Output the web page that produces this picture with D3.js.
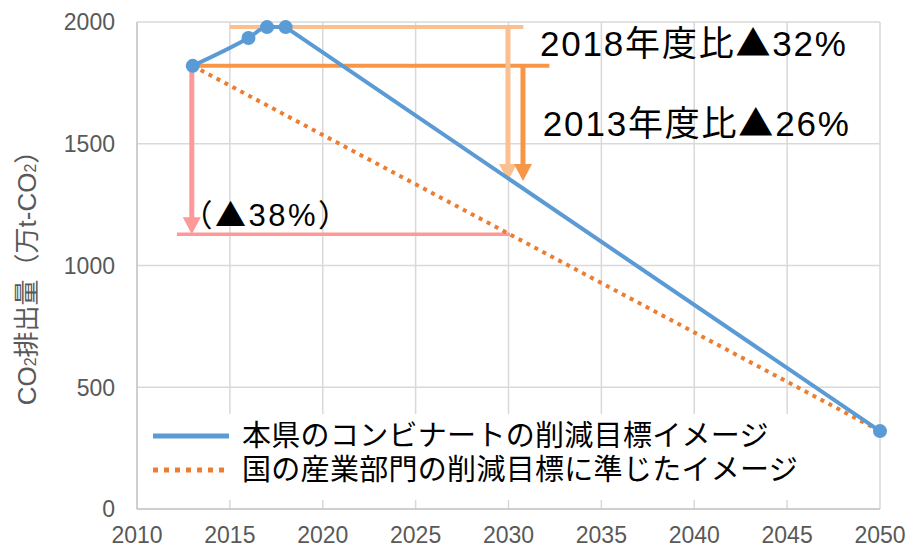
<html>
<head>
    <meta charset="utf-8">
    <style>
        body { margin: 0; background: #fff; }
        text { font-family: "Liberation Sans", Arial, "Noto Sans CJK JP", sans-serif; }
        .grid line { stroke: #d9d9d9; stroke-width: 1.5; }
        .tick-label { fill: #595959; font-size: 23px; }
        .tri { font-family: "Noto Sans CJK JP", sans-serif; }
    </style>
    <script src="https://cdn.jsdelivr.net/npm/d3@7/dist/d3.min.js"></script>
</head>
<body>
<div id="chart-container"></div>
<script>

    // data
    var xTicks = [2010, 2015, 2020, 2025, 2030, 2035, 2040, 2045, 2050];
    var yTicks = [0, 500, 1000, 1500, 2000];

    var prefYears  = [2013, 2016, 2017, 2018, 2050];
    var prefValues = [1820, 1934, 1979, 1979, 320];
    var smoothUntil = 2018; // excel smoothing only visible up to 2018

    var natYears  = [2013, 2050];
    var natValues = [1820, 320];

    var seriesNames = ["本県のコンビナートの削減目標イメージ", "国の産業部門の削減目標に準じたイメージ"];

    // annotation reference levels (year span, value)
    var refValues = [1979, 1820, 1128];
    var refFrom   = [2015, 2012.75, 2012.15];
    var refTo     = [2030.8, 2032.2, 2030.08];

    // arrows (year, from value, to value)
    var arrowYears = [2029.97, 2030.78, 2012.95];
    var arrowFrom  = [1979, 1820, 1820];
    var arrowTo    = [1347, 1347, 1128];

    // labels: before / after the triangle
    var labelPre    = ["2018年度比", "2013年度比", "（"];
    var labelPost   = ["32%", "26%", "38%）"];
    var labelYears  = [2031.7, 2031.85, 2012.4];
    var labelValues = [1860, 1531, 1162];
    var labelSizes  = [35, 35, 31];
    var labelSpacing = [1.8, 1.8, 2.5];

    var refColors = ["#FAC090", "#F79646", "#FF9999"];

    var width = 908, height = 547;
    var margin = {top: 22, bottom: 38, left: 137, right: 28};

    var svg = d3.select("#chart-container").append("svg")
        .attr("width", width)
        .attr("height", height);

    var x = d3.scaleLinear().domain([2010, 2050]).range([margin.left, width - margin.right]);
    var y = d3.scaleLinear().domain([0, 2000]).range([height - margin.bottom, margin.top]);

    // grid
    var grid = svg.append("g").attr("class", "grid");
    grid.selectAll(".vx").data(xTicks.slice(1)).enter().append("line")
        .attr("x1", function (d) { return x(d); })
        .attr("x2", function (d) { return x(d); })
        .attr("y1", y(0)).attr("y2", y(2000));
    grid.selectAll(".hy").data(yTicks.slice(1)).enter().append("line")
        .attr("x1", x(2010)).attr("x2", x(2050))
        .attr("y1", function (d) { return y(d); })
        .attr("y2", function (d) { return y(d); });

    // axes lines
    svg.append("line").attr("x1", x(2010)).attr("x2", x(2010))
        .attr("y1", y(0)).attr("y2", y(2000))
        .attr("stroke", "#bfbfbf").attr("stroke-width", 1.5);
    svg.append("line").attr("x1", x(2010)).attr("x2", x(2050))
        .attr("y1", y(0)).attr("y2", y(0))
        .attr("stroke", "#bfbfbf").attr("stroke-width", 1.5);

    // tick labels
    svg.selectAll(".xl").data(xTicks).enter().append("text")
        .attr("class", "tick-label")
        .attr("x", function (d) { return x(d); })
        .attr("y", y(0) + 34)
        .attr("text-anchor", "middle")
        .text(function (d) { return d; });
    svg.selectAll(".yl").data(yTicks).enter().append("text")
        .attr("class", "tick-label")
        .attr("x", x(2010) - 22)
        .attr("y", function (d) { return y(d); })
        .attr("dy", "0.36em")
        .attr("text-anchor", "end")
        .text(function (d) { return d; });

    // y axis title
    var yTitle = svg.append("text")
        .attr("transform", "translate(36," + ((y(0) + y(2000)) / 2 + 6) + ") rotate(-90)")
        .attr("text-anchor", "middle")
        .attr("fill", "#595959")
        .attr("font-size", "26px");
    yTitle.append("tspan").text("CO");
    yTitle.append("tspan").attr("font-size", "16px").text("2");
    yTitle.append("tspan").text("排出量（万t-CO");
    yTitle.append("tspan").attr("font-size", "16px").text("2");
    yTitle.append("tspan").text("）");

    // reference lines
    svg.selectAll(".ref").data(refValues).enter().append("line")
        .attr("x1", function (d, i) { return x(refFrom[i]); })
        .attr("x2", function (d, i) { return x(refTo[i]); })
        .attr("y1", function (d) { return y(d); })
        .attr("y2", function (d) { return y(d); })
        .attr("stroke", function (d, i) { return refColors[i]; })
        .attr("stroke-width", function (d, i) { return i == 2 ? 3.5 : 4; });

    // national target (dotted)
    var natLine = d3.line()
        .x(function (d, i) { return x(natYears[i]); })
        .y(function (d) { return y(d); });
    svg.append("path")
        .attr("d", natLine(natValues))
        .attr("fill", "none")
        .attr("stroke", "#ED7D31")
        .attr("stroke-width", 4)
        .attr("stroke-dasharray", "4,5");

    // arrows
    var head = 17, headW = 9;
    arrowYears.forEach(function (yr, i) {
        var ax = x(yr), y0 = y(arrowFrom[i]), y1 = y(arrowTo[i]);
        svg.append("line")
            .attr("x1", ax).attr("x2", ax)
            .attr("y1", y0).attr("y2", y1 - head + 1)
            .attr("stroke", refColors[i])
            .attr("stroke-width", 5);
        svg.append("path")
            .attr("d", "M" + (ax - headW) + "," + (y1 - head) + "L" + (ax + headW) + "," + (y1 - head) + "L" + ax + "," + y1 + "Z")
            .attr("fill", refColors[i]);
    });

    // prefecture line: smoothed part then straight part
    var prefPts = prefYears.map(function (yr, i) { return [yr, prefValues[i]]; });
    var smoothPts = prefPts.filter(function (p) { return p[0] <= smoothUntil; });
    var straightPts = prefPts.filter(function (p) { return p[0] >= smoothUntil; });

    var smoothLine = d3.line()
        .curve(d3.curveMonotoneX)
        .x(function (d) { return x(d[0]); })
        .y(function (d) { return y(d[1]); });
    var straightLine = d3.line()
        .x(function (d) { return x(d[0]); })
        .y(function (d) { return y(d[1]); });

    svg.append("path")
        .attr("d", smoothLine(smoothPts))
        .attr("fill", "none")
        .attr("stroke", "#5B9BD5")
        .attr("stroke-width", 4)
        .attr("stroke-linecap", "round");
    svg.append("path")
        .attr("d", straightLine(straightPts))
        .attr("fill", "none")
        .attr("stroke", "#5B9BD5")
        .attr("stroke-width", 4)
        .attr("stroke-linecap", "round");
    svg.selectAll(".pt").data(prefPts).enter().append("circle")
        .attr("cx", function (d) { return x(d[0]); })
        .attr("cy", function (d) { return y(d[1]); })
        .attr("r", 7)
        .attr("fill", "#5B9BD5");

    // annotation labels
    labelPre.forEach(function (pre, i) {
        var t = svg.append("text")
            .attr("x", x(labelYears[i]))
            .attr("y", y(labelValues[i]))
            .attr("font-size", labelSizes[i] + "px")
            .attr("letter-spacing", labelSpacing[i])
            .attr("fill", "#000");
        t.append("tspan").text(pre);
        t.append("tspan").attr("class", "tri").text("▲");
        t.append("tspan").text(labelPost[i]);
    });

    // legend
    var legend = svg.append("g");
    legend.append("rect")
        .attr("x", 140).attr("y", 414)
        .attr("width", 690).attr("height", 86)
        .attr("fill", "#fff");
    var legendColors = ["#5B9BD5", "#ED7D31"];
    var legendDash = [null, "5,6"];
    seriesNames.forEach(function (name, i) {
        var ly = 436 + i * 34;
        legend.append("line")
            .attr("x1", 153).attr("x2", 229)
            .attr("y1", ly).attr("y2", ly)
            .attr("stroke", legendColors[i])
            .attr("stroke-width", 5)
            .attr("stroke-dasharray", legendDash[i]);
        legend.append("text")
            .attr("x", 242).attr("y", ly)
            .attr("dy", "0.36em")
            .attr("font-size", "29px")
            .attr("letter-spacing", 0.3)
            .attr("fill", "#000")
            .text(name);
    });

</script>
</body>
</html>
